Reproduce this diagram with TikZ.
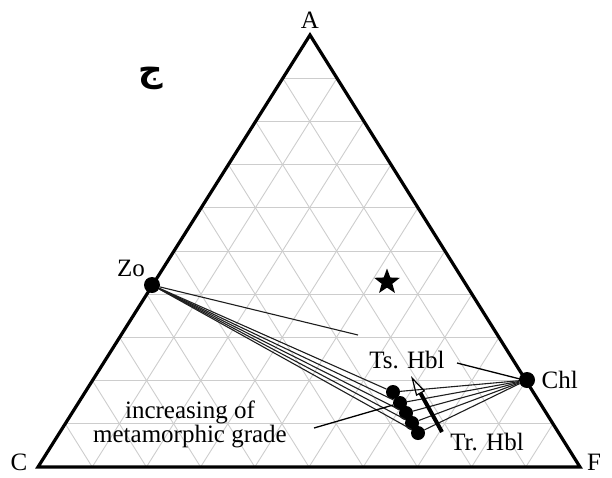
\documentclass[tikz,border=0pt]{standalone}
\usepackage{fontspec}
\setmainfont{Liberation Serif}
\newfontfamily\arabicfont[Script=Arabic]{DejaVu Sans}
\TeXXeTstate=1
\usepackage{xcolor}
\usetikzlibrary{shapes.geometric, arrows.meta, positioning, calc}
\definecolor{gridgray}{RGB}{205,205,205}
\definecolor{tieblack}{RGB}{30,30,30}

\begin{document}
\begin{tikzpicture}[
  x=1pt, y=-1pt,
  every node/.style={font=\fontsize{25}{24}\selectfont},
  corner/.style={font=\fontsize{25}{26}\selectfont, inner sep=0pt},
  grid/.style={draw=gridgray, line width=0.9pt},
  frame/.style={draw=black, line width=3.2pt, line join=miter},
  phase/.style={circle, fill=black, inner sep=0pt, minimum size=16pt},
  hbl/.style={circle, fill=black, inner sep=0pt, minimum size=14pt},
  tie/.style={draw=tieblack, line width=1.1pt},
  leader/.style={draw=black, line width=1.3pt},
  grade/.style={line width=4pt,
                -{Triangle[open, length=20pt, width=10pt, line width=1.2pt]}},
]
\useasboundingbox (0,0) rectangle (612,477);

% ── Triangle corners ──
\coordinate (A) at (310,35);
\coordinate (C) at (38,467);
\coordinate (F) at (580,467);

% ── Ternary grid ──
\foreach \k in {1,...,9} {
  \draw[grid] ($(A)!\k/10!(C)$) -- ($(A)!\k/10!(F)$);
  \draw[grid] ($(C)!\k/10!(F)$) -- ($(A)!\k/10!(F)$);
  \draw[grid] ($(F)!\k/10!(C)$) -- ($(A)!\k/10!(C)$);
}
\draw[frame] (A) -- (C) -- (F) -- cycle;

% ── Corner labels ──
\node[corner] (la) at (310,20) {A};
\node[corner] (lc) at (19,462) {C};
\node[corner] (lf) at (594,462) {F};
\node (tag) at (151,78) {\arabicfont\bfseries\fontsize{34}{36}\selectfont\beginR ج\endR};

% ── Phases ──
\node[phase] (zo)  at (152,285) {};
\node[phase] (chl) at (527,380) {};
\node (lzo) at (131,268) {Zo};
\node[right=3pt of chl] (lchl) {Chl};
\node[star, star points=5, star point ratio=2.4, fill=black,
      inner sep=0pt, minimum size=27pt] (bulk) at (387,282) {};

\node[hbl] (h1) at (393,392) {};
\node[hbl] (h2) at (400,403) {};
\node[hbl] (h3) at (406,413) {};
\node[hbl] (h4) at (412,423) {};
\node[hbl] (h5) at (418,433) {};

% ── Tie lines ──
\foreach \h in {h1,h2,h3,h4,h5} {
  \draw[tie] (zo) -- (\h);
  \draw[tie] (chl) -- (\h);
}
\coordinate (zoend) at (358,335);
\draw[tie] (zo) -- (zoend);

% ── Labels and leaders ──
\node (ts) at (407,360) {Ts. Hbl};
\node (tr) at (487,442) {Tr. Hbl};
\node[align=center] (inc) at (190,424) {increasing of\\metamorphic grade};
\coordinate (tsa) at (457,363);
\coordinate (tsb) at (520,379);
\draw[leader] (tsa) -- (tsb);
\coordinate (inca) at (314,428);
\draw[leader] (inca) -- (h2);

\coordinate (ga) at (442,432);
\coordinate (gb) at (411,376);
\draw[grade] (ga) -- (gb);

\end{tikzpicture}
\end{document}
